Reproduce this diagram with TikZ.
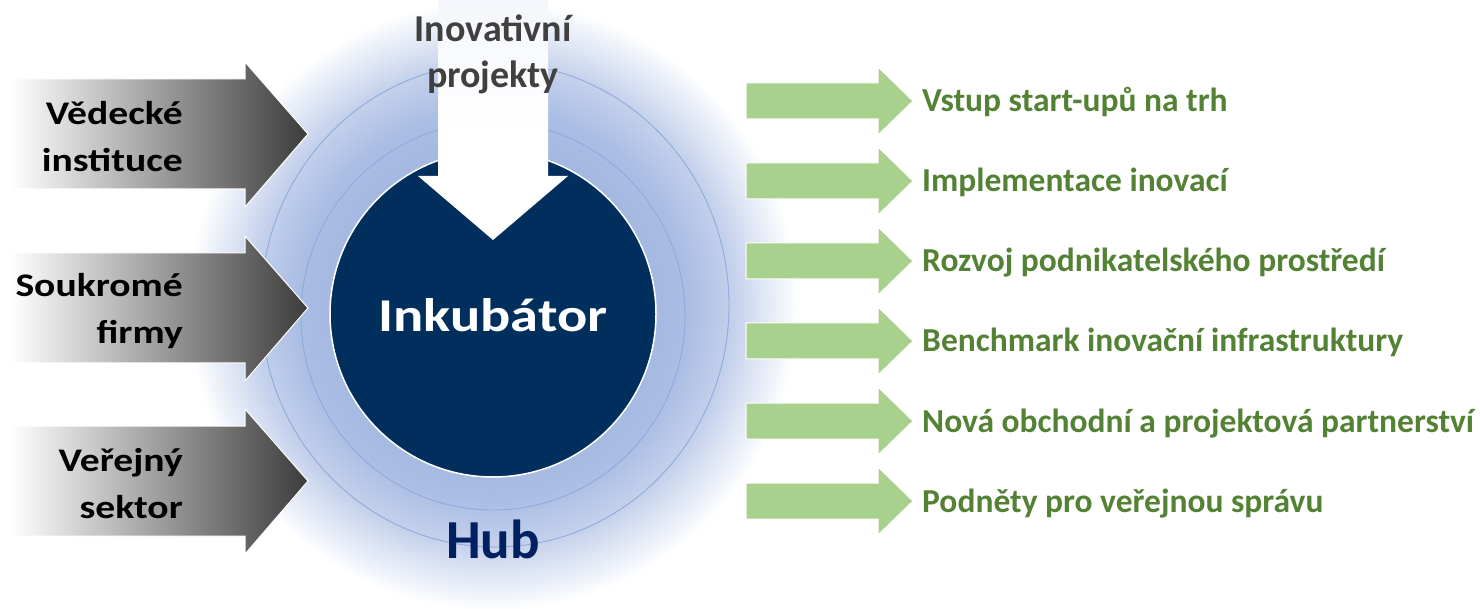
\documentclass[tikz,border=0pt]{standalone}
\usepackage{fontspec}
\setmainfont{Carlito}
\newfontfamily\widefont[FakeStretch=1.2]{Carlito}
\definecolor{glowc}{RGB}{164,184,225}
\definecolor{glowa}{RGB}{170,189,227}
\definecolor{glowb}{RGB}{196,209,236}
\definecolor{glowd}{RGB}{222,229,244}
\definecolor{glowe}{RGB}{240,244,250}
\definecolor{ringc}{RGB}{143,170,220}
\definecolor{navy}{RGB}{0,47,94}
\definecolor{hubc}{RGB}{0,32,96}
\definecolor{greenarr}{RGB}{169,209,142}
\definecolor{greentxt}{RGB}{84,130,53}
\definecolor{darkarr}{RGB}{60,60,60}
\definecolor{toptxt}{RGB}{64,64,64}
\definecolor{arrtint}{RGB}{244,246,251}
\pgfdeclareradialshading{glow}{\pgfpoint{0bp}{0bp}}{color(0bp)=(glowc); color(13bp)=(glowc); color(16bp)=(glowa); color(19.7bp)=(glowb); color(22bp)=(glowd); color(23.8bp)=(glowe); color(25bp)=(white); color(50bp)=(white)}
\tikzset{
  leftarrow/.style={left color=white, right color=darkarr, draw=white, line width=1pt},
  greenarrow/.style={fill=greenarr, draw=white, line width=1pt},
  lefttext/.style={font=\widefont\fontsize{33}{47}\selectfont\bfseries, align=right, text=black, inner sep=0pt},
  greentext/.style={font=\fontsize{33.5}{40}\selectfont\bfseries, text=greentxt, inner sep=0pt, anchor=base west},
  ring/.style={draw=ringc, line width=0.9pt}
}
\begin{document}
\begin{tikzpicture}[x=1pt,y=-1pt]
\useasboundingbox (0,0) rectangle (1480,609);
\fill[white] (0,0) rectangle (1480,609);
% glow
\shade[shading=glow] (493,305) circle (305);
% rings
\draw[ring] (495,305) ellipse [x radius=234, y radius=242];
\draw[ring] (493,316) ellipse [x radius=192, y radius=194];
% core
\fill[navy, draw=white, line width=1.5pt] (493,314) circle (163);
% top arrow
\fill[white] (438,0) -- (548,0) -- (548,176) -- (568,176) -- (493,240) -- (418,176) -- (438,176) -- cycle;
\shade[top color=arrtint, bottom color=white] (438.5,0) rectangle (547.5,130);
\node[font=\fontsize{38}{46}\selectfont\bfseries, text=toptxt, align=center, inner sep=0pt, anchor=base] (inov) at (493,88) {Inovativní\\projekty};
\node[font=\widefont\fontsize{47}{50}\selectfont\bfseries, text=white, inner sep=0pt, anchor=base] (ink) at (493,332) {Inkubátor};
\node[font=\fontsize{55}{60}\selectfont\bfseries, text=hubc, inner sep=0pt, anchor=base] (hub) at (493,558) {Hub};
% left arrows
\foreach \cy/\txt/\nm in {134/{Vědecké\\instituce}/ved, 308/{Soukromé\\firmy}/souk, 481/{Veřejný\\sektor}/ver}{
  \shadedraw[leftarrow] (10,\cy-55) -- (245,\cy-55) -- (245,\cy-72) -- (308,\cy) -- (245,\cy+73) -- (245,\cy+55) -- (10,\cy+55) -- cycle;
  \node[lefttext, anchor=east] (\nm) at (183,\cy+3) {\txt};
}
% green arrows
\foreach \cy/\txt/\nm in {101/{Vstup start-upů na trh}/g1, 181/{Implementace inovací}/g2, 261/{Rozvoj podnikatelského prostředí}/g3, 341/{Benchmark inovační infrastruktury}/g4, 421/{Nová obchodní a projektová partnerství}/g5, 501/{Podněty pro veřejnou správu}/g6}{
  \filldraw[greenarrow] (746,\cy-18) -- (878,\cy-18) -- (878,\cy-34) -- (913,\cy) -- (878,\cy+34) -- (878,\cy+18) -- (746,\cy+18) -- cycle;
  \node[greentext] (\nm) at (922,\cy+11) {\txt};
}
\end{tikzpicture}
\end{document}
